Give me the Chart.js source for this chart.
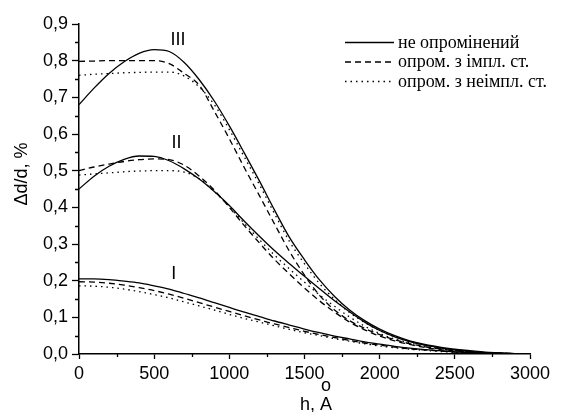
<!DOCTYPE html>
<html>
<head>
<meta charset="utf-8">
<script src="https://cdn.jsdelivr.net/npm/chart.js@4.4.1/dist/chart.umd.min.js"></script>
<style>
  html, body { margin: 0; padding: 0; background: #fff; }
  #wrap { width: 563px; height: 412px; }
</style>
</head>
<body>
<div id="wrap"><canvas id="c" width="563" height="412"></canvas></div>
<script>
// ---- data ----
const hValues = [0,100,200,300,400,500,600,700,800,900,1000,1100,1200,1300,1400,1500,1600,1700,1800,1900,2000,2100,2200,2300,2400,2500,2600,2700,2800,2900,3000];

// curve III
const solidIII  = [0.680,0.725,0.765,0.797,0.820,0.830,0.825,0.795,0.748,0.690,0.622,0.548,0.472,0.393,0.318,0.257,0.202,0.157,0.120,0.091,0.068,0.050,0.036,0.026,0.019,0.013,0.009,0.005,0.003,0.001,0.000];
const dashedIII = [0.798,0.799,0.800,0.800,0.800,0.800,0.792,0.765,0.733,0.662,0.587,0.508,0.432,0.355,0.280,0.215,0.160,0.120,0.091,0.070,0.053,0.039,0.028,0.020,0.014,0.009,0.006,0.003,0.002,0.001,0.000];
const dottedIII = [0.760,0.763,0.765,0.767,0.768,0.769,0.769,0.758,0.728,0.680,0.612,0.537,0.462,0.383,0.307,0.246,0.192,0.149,0.113,0.086,0.064,0.047,0.034,0.025,0.017,0.012,0.008,0.004,0.002,0.001,0.000];

// curve II
const solidII  = [0.450,0.485,0.512,0.531,0.540,0.539,0.527,0.505,0.477,0.443,0.405,0.362,0.321,0.282,0.246,0.212,0.178,0.145,0.115,0.087,0.064,0.047,0.034,0.024,0.017,0.011,0.007,0.004,0.002,0.001,0.000];
const dashedII = [0.500,0.510,0.518,0.525,0.530,0.532,0.530,0.515,0.485,0.447,0.400,0.350,0.303,0.258,0.218,0.180,0.145,0.114,0.087,0.066,0.049,0.036,0.026,0.018,0.012,0.008,0.005,0.003,0.002,0.001,0.000];
const dottedII = [0.488,0.491,0.494,0.497,0.499,0.500,0.500,0.496,0.478,0.443,0.402,0.356,0.312,0.270,0.232,0.196,0.161,0.130,0.101,0.076,0.056,0.041,0.030,0.021,0.014,0.009,0.006,0.003,0.002,0.001,0.000];

// curve I
const solidI  = [0.205,0.205,0.203,0.199,0.194,0.186,0.177,0.165,0.153,0.140,0.127,0.114,0.102,0.090,0.079,0.068,0.058,0.049,0.041,0.033,0.027,0.021,0.016,0.012,0.009,0.006,0.004,0.003,0.001,0.0005,0.000];
const dashedI = [0.197,0.196,0.193,0.188,0.181,0.173,0.163,0.152,0.140,0.128,0.116,0.104,0.093,0.082,0.072,0.062,0.053,0.045,0.037,0.030,0.024,0.019,0.014,0.011,0.008,0.005,0.004,0.002,0.001,0.0005,0.000];
const dottedI = [0.186,0.185,0.182,0.177,0.170,0.162,0.153,0.142,0.131,0.120,0.108,0.097,0.087,0.077,0.067,0.058,0.050,0.042,0.035,0.028,0.022,0.017,0.013,0.010,0.007,0.005,0.003,0.002,0.001,0.0005,0.000];

const legendLabels = ['не опромінений', 'опром. з імпл. ст.', 'опром. з неімпл. ст.'];
const curveNames = ['I', 'II', 'III'];
const curveNameX = [630, 648, 658];
const curveNameY = [0.218, 0.575, 0.856];
const xTitle = 'h, A';
const yTitle = 'Δd/d, %';

// ---- styles ----
const dashStyles = [[], [6, 4], [1.5, 4]];
const sansFont = '"Liberation Sans", Arial, sans-serif';
const serifFont = '"Liberation Serif", "Times New Roman", serif';

function pts(arr) { return arr.map((v, i) => ({x: hValues[i], y: v})); }
function ds(arr, styleIdx) {
  return {
    data: pts(arr),
    borderColor: '#000',
    borderWidth: 1.3,
    borderDash: dashStyles[styleIdx],
    pointRadius: 0,
    fill: false,
    cubicInterpolationMode: 'monotone'
  };
}

const decor = {
  id: 'decor',
  afterDraw(chart) {
    const ctx = chart.ctx;
    const xs = chart.scales.x, ys = chart.scales.y;
    const ca = chart.chartArea;
    ctx.save();
    // minor ticks
    ctx.strokeStyle = '#000';
    ctx.lineWidth = 1.3;
    ctx.beginPath();
    for (let v = 250; v < 3000; v += 500) {
      const px = Math.round(xs.getPixelForValue(v)) + 0.5;
      ctx.moveTo(px, ca.bottom);
      ctx.lineTo(px, ca.bottom + 3);
    }
    for (let k = 0; k < 9; k++) {
      const v = 0.05 + k * 0.1;
      const py = Math.round(ys.getPixelForValue(v)) + 0.5;
      ctx.moveTo(ca.left, py);
      ctx.lineTo(ca.left - 4, py);
    }
    ctx.stroke();

    // curve names
    ctx.fillStyle = '#000';
    ctx.font = '18px ' + sansFont;
    ctx.textAlign = 'center';
    ctx.textBaseline = 'middle';
    curveNames.forEach((t, i) => {
      ctx.fillText(t, xs.getPixelForValue(curveNameX[i]), ys.getPixelForValue(curveNameY[i]));
    });

    // axis titles
    ctx.font = '18px ' + sansFont;
    ctx.textAlign = 'center';
    ctx.textBaseline = 'alphabetic';
    ctx.fillText(xTitle, 316, 410);
    ctx.fillText('o', 326, 391);
    ctx.save();
    ctx.translate(27, 174);
    ctx.rotate(-Math.PI / 2);
    ctx.fillText(yTitle, 0, 0);
    ctx.restore();

    // legend
    ctx.font = '18px ' + serifFont;
    ctx.textAlign = 'left';
    ctx.textBaseline = 'middle';
    const rowY = [42, 61.5, 81];
    legendLabels.forEach((t, i) => {
      ctx.beginPath();
      ctx.lineWidth = 1.3;
      ctx.setLineDash(dashStyles[i]);
      ctx.moveTo(345, rowY[i] + 0.5);
      ctx.lineTo(394, rowY[i] + 0.5);
      ctx.stroke();
      ctx.setLineDash([]);
      ctx.fillText(t, 398, rowY[i] + 1);
    });
    ctx.restore();
  }
};

const tickFont = {family: sansFont, size: 18};

new Chart(document.getElementById('c'), {
  type: 'line',
  data: {
    datasets: [
      ds(solidIII, 0), ds(dashedIII, 1), ds(dottedIII, 2),
      ds(solidII, 0), ds(dashedII, 1), ds(dottedII, 2),
      ds(solidI, 0), ds(dashedI, 1), ds(dottedI, 2)
    ]
  },
  options: {
    responsive: false,
    animation: false,
    layout: {padding: {top: 24, right: 33, left: 0, bottom: 0}},
    plugins: {legend: {display: false}, tooltip: {enabled: false}},
    scales: {
      x: {
        type: 'linear', min: 0, max: 3000,
        ticks: {stepSize: 500, color: '#000', font: tickFont, padding: 4, maxRotation: 0,
          callback: v => String(v)},
        grid: {drawOnChartArea: false, drawTicks: true, tickLength: 5, tickColor: '#000', tickWidth: 1.3},
        border: {color: '#000', width: 1.5},
        afterFit: s => { s.height = 58; }
      },
      y: {
        type: 'linear', min: 0, max: 0.9,
        ticks: {stepSize: 0.1, color: '#000', font: tickFont, padding: 4,
          callback: v => Number(v).toFixed(1).replace('.', ',')},
        grid: {drawOnChartArea: false, drawTicks: true, tickLength: 7, tickColor: '#000', tickWidth: 1.3},
        border: {color: '#000', width: 1.5},
        afterFit: s => { s.width = 79; }
      }
    }
  },
  plugins: [decor]
});
</script>
</body>
</html>
